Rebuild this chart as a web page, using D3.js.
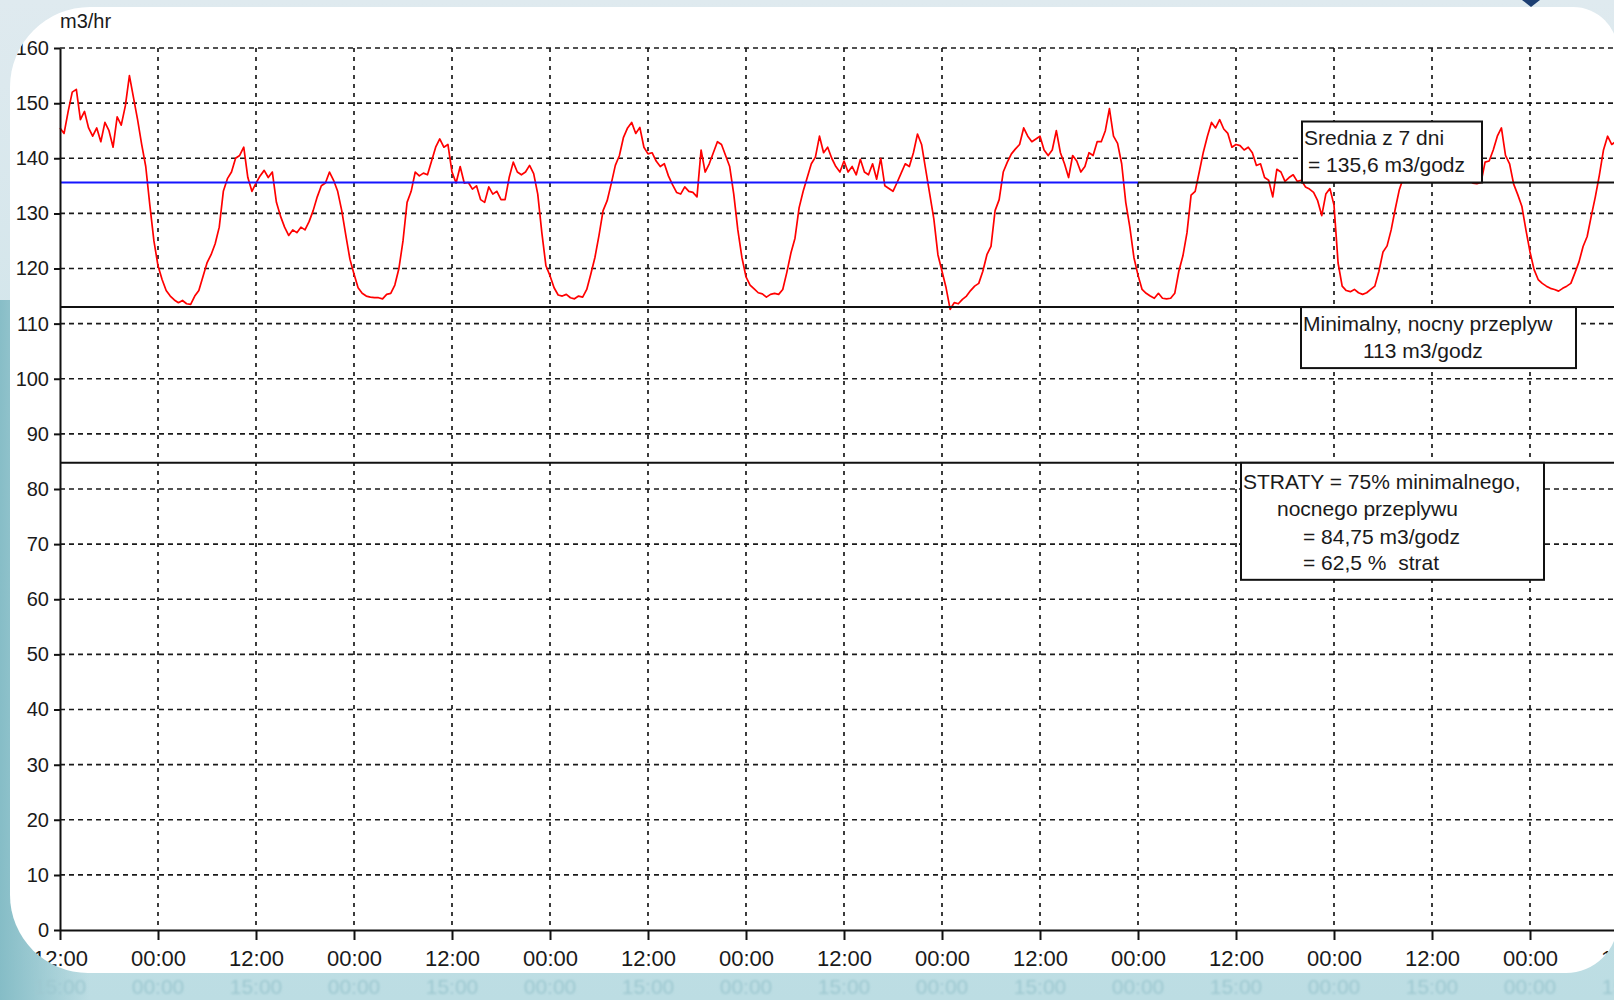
<!DOCTYPE html>
<html>
<head>
<meta charset="utf-8">
<script src="https://cdn.jsdelivr.net/npm/d3@7"></script>
<style>
    body { margin: 0; background: #cfe5ea; }
    svg { display: block; }
</style>
</head>
<body>
<script>
const W = 1614, H = 1000;

// flow in m3/hr, one reading every 30 min, starting at 12:00
const stepHours = 0.5;
const day1 = [145.5, 144.5, 148.5, 152, 152.5, 147, 148.5, 145.5, 144, 145.5,
    143, 146.5, 145, 142, 147.5, 146, 149.5, 155, 151, 147,
    142.5, 138.5, 131.5, 125, 120.5, 118, 116, 115, 114.3, 113.8,
    114.2, 113.6, 113.5, 115, 116, 118.5, 121, 122.5, 124.5, 127.5,
    134, 136.3, 137.5, 140, 140.5, 142, 136.5, 134];
const day2 = [135.5, 136.8, 137.8, 136.5, 137.5, 132, 129.5, 127.5, 126, 127,
    126.5, 127.5, 127, 128.5, 130.5, 133, 135, 135.5, 137.5, 136,
    134, 130.5, 126, 121.7, 119, 116.5, 115.5, 115, 114.8, 114.7,
    114.7, 114.5, 115.3, 115.5, 117, 120, 125, 132, 134, 137.5,
    136.8, 137.3, 137, 139.5, 142, 143.5, 142, 142.5];
const day3 = [137.5, 135.5, 138.5, 135.5, 135.6, 134.4, 135, 132.5, 132, 134.8,
    133.5, 134, 132.5, 132.5, 136.5, 139.3, 137.5, 137, 137.5, 138.7,
    137.2, 133.5, 126.5, 120.5, 118.7, 116.5, 115.2, 115, 115.3, 114.7,
    114.5, 115, 114.8, 116.2, 119, 122, 126, 130.5, 132.3, 135.4,
    138.7, 140.5, 143.8, 145.5, 146.5, 144.5, 145.6, 142];
const day4 = [140.8, 141, 139.5, 138.5, 139, 136.8, 135.2, 133.8, 133.5, 134.8,
    134, 133.8, 133, 141.5, 137.5, 139, 141, 143, 142.5, 140.5,
    138.5, 133.5, 127, 122, 118.5, 117, 116.3, 115.6, 115.4, 114.8,
    115.3, 115.5, 115.3, 116.2, 119.3, 122.8, 125.5, 131, 134, 136.5,
    139, 140.2, 144, 141, 142, 140, 138.5, 137.5];
const day5 = [139.5, 137.5, 138.5, 137, 139.8, 137.5, 137, 139, 136.2, 140,
    135, 134.5, 134, 135.6, 137.3, 139, 138.5, 141, 144.4, 142.5,
    138, 133.5, 129, 122.5, 119.5, 116.5, 112.6, 113.8, 113.6, 114.4,
    115, 116, 116.8, 117.3, 119.5, 122.5, 124, 130.5, 132.5, 137.5,
    139.3, 140.8, 141.7, 142.5, 145.5, 144, 143, 143.5];
const day6 = [144, 141.5, 140.5, 141.5, 145, 141, 139, 136.5, 140.5, 139.5,
    137.5, 138.5, 141, 140.5, 143, 143, 145, 149, 144, 142.7,
    139, 132, 127.5, 122, 118.8, 116.2, 115.5, 115, 114.6, 115.5,
    114.6, 114.5, 114.6, 115.5, 119.5, 122.3, 126.5, 133.3, 134, 137.5,
    141.1, 144, 146.5, 145.5, 147, 145.3, 144.5, 142];
const day7 = [142.5, 142.3, 141.5, 142, 141, 138.7, 139, 136.5, 136, 133,
    138, 137.5, 135.8, 136.5, 137, 135.8, 136, 134.8, 134.4, 133.8,
    132.3, 129.6, 133.5, 134.5, 131.5, 121, 116.8, 116, 115.8, 116.2,
    115.6, 115.3, 115.6, 116.2, 116.8, 119.5, 123, 124.1, 127, 130.8,
    134.3, 136.5, 138.5, 139.5, 141, 140, 141.5, 140.5];
const day8 = [142, 139.5, 141, 140, 141.5, 139, 138.5, 137, 137.5, 136,
    135.5, 135.4, 135.6, 139.3, 139.5, 141.5, 144, 145.5, 140.5, 139,
    135.3, 133.4, 131.3, 127, 123, 119.8, 118, 117.3, 116.8, 116.4,
    116.2, 115.9, 116.4, 116.8, 117.3, 119.2, 121.2, 124, 125.8, 129.5,
    133, 137, 141.5, 144, 142.5, 143];

const flow = [].concat(day1, day2, day3, day4, day5, day6, day7, day8);

const avgFlow = 135.6;     // srednia z 7 dni
const avgEndHour = 132;    // blue part of the mean line
const minNightFlow = 113;
const lossFlow = 84.75;

const yTicks = [0, 10, 20, 30, 40, 50, 60, 70, 80, 90, 100, 110, 120, 130, 140, 150, 160];
const timeTicks = [0, 12, 24, 36, 48, 60, 72, 84, 96, 108, 120, 132, 144, 156, 168, 180, 192];
const timeLabels = ["12:00", "00:00", "12:00", "00:00", "12:00", "00:00", "12:00", "00:00", "12:00",
    "00:00", "12:00", "00:00", "12:00", "00:00", "12:00", "00:00", "12:00"];
const mirrorLabels = ["15:00", "00:00", "15:00", "00:00", "15:00", "00:00", "15:00", "00:00", "15:00",
    "00:00", "15:00", "00:00", "15:00", "00:00", "15:00", "00:00", "15:00"];

const avgNote = ["Srednia z 7 dni", "= 135,6 m3/godz"];
const minNote = ["Minimalny, nocny przeplyw", "113 m3/godz"];
const lossNote = ["STRATY = 75% minimalnego,", "nocnego przeplywu", "= 84,75 m3/godz", "= 62,5 %  strat"];

const FONT = "'Liberation Sans', Arial, sans-serif";

const x = d3.scaleLinear().domain([0, 192]).range([60, 1628]);
const y = d3.scaleLinear().domain([0, 160]).range([930, 48]);

const svg = d3.select('body')
    .append('svg')
    .attr('width', W)
    .attr('height', H);

const defs = svg.append('defs');

const bg = defs.append('linearGradient').attr('id', 'bgGrad')
    .attr('x1', 0).attr('y1', 0).attr('x2', 0).attr('y2', 1);
bg.append('stop').attr('offset', '0%').attr('stop-color', '#dfeaef');
bg.append('stop').attr('offset', '100%').attr('stop-color', '#bcdde3');

const side = defs.append('linearGradient').attr('id', 'sideGrad')
    .attr('x1', 0).attr('y1', 0).attr('x2', 1).attr('y2', 0);
side.append('stop').attr('offset', '0%').attr('stop-color', '#7fb9c3').attr('stop-opacity', 0.9);
side.append('stop').attr('offset', '100%').attr('stop-color', '#7fb9c3').attr('stop-opacity', 0);

defs.append('filter').attr('id', 'soft')
    .append('feGaussianBlur').attr('stdDeviation', 0.9);

// white rounded panel the chart sits on
const px0 = 10, py0 = 7, px1 = 1618, py1 = 973;
const rTL = 80, rTR = 45, rBR = 52, rBL = 78;
const panelPath = `M${px0 + rTL},${py0} H${px1 - rTR} A${rTR},${rTR} 0 0 1 ${px1},${py0 + rTR}
    V${py1 - rBR} A${rBR},${rBR} 0 0 1 ${px1 - rBR},${py1} H${px0 + rBL}
    A${rBL},${rBL} 0 0 1 ${px0},${py1 - rBL} V${py0 + rTL} A${rTL},${rTL} 0 0 1 ${px0 + rTL},${py0} Z`;

defs.append('clipPath').attr('id', 'panelClip')
    .append('path').attr('d', panelPath);

svg.append('rect').attr('width', W).attr('height', H).attr('fill', 'url(#bgGrad)');
svg.append('rect').attr('x', 0).attr('y', 300).attr('width', 90).attr('height', H - 300)
    .attr('fill', 'url(#sideGrad)');
svg.append('path').attr('d', 'M1522,0 L1540,0 L1531,7 Z').attr('fill', '#1d3f73');

// faded reflection of the time labels under the panel
svg.append('g')
    .attr('filter', 'url(#soft)')
    .selectAll('text')
    .data(timeTicks)
    .enter()
    .append('text')
    .attr('x', d => x(d))
    .attr('y', 994)
    .attr('text-anchor', 'middle')
    .attr('font-family', FONT)
    .attr('font-size', 21)
    .attr('fill', '#9dc8d0')
    .text((d, i) => mirrorLabels[i]);

svg.append('path').attr('d', panelPath).attr('fill', '#fff');

const chart = svg.append('g').attr('clip-path', 'url(#panelClip)');

// grid
chart.append('g')
    .selectAll('line')
    .data(yTicks.filter(d => d > 0))
    .enter()
    .append('line')
    .attr('x1', x(0)).attr('x2', x(192))
    .attr('y1', d => y(d)).attr('y2', d => y(d))
    .attr('stroke', '#1a1a1a')
    .attr('stroke-width', 1.7)
    .attr('stroke-dasharray', '5,4');

chart.append('g')
    .selectAll('line')
    .data(timeTicks.filter(d => d > 0))
    .enter()
    .append('line')
    .attr('x1', d => x(d)).attr('x2', d => x(d))
    .attr('y1', y(160)).attr('y2', y(0))
    .attr('stroke', '#1a1a1a')
    .attr('stroke-width', 1.7)
    .attr('stroke-dasharray', '4,5');

// flow series
const line = d3.line()
    .x((d, i) => x(i * stepHours))
    .y(d => y(d));

chart.append('path')
    .datum(flow)
    .attr('d', line)
    .attr('fill', 'none')
    .attr('stroke', '#ff0000')
    .attr('stroke-width', 1.7)
    .attr('stroke-linejoin', 'round');

// reference lines
const refLines = [
    {from: 0, to: avgEndHour, v: avgFlow, c: '#1515ff'},
    {from: avgEndHour, to: 192, v: avgFlow, c: '#111'},
    {from: 0, to: 192, v: minNightFlow, c: '#111'},
    {from: 0, to: 192, v: lossFlow, c: '#111'}
];
chart.append('g')
    .selectAll('line')
    .data(refLines)
    .enter()
    .append('line')
    .attr('x1', d => x(d.from)).attr('x2', d => x(d.to))
    .attr('y1', d => y(d.v)).attr('y2', d => y(d.v))
    .attr('stroke', d => d.c)
    .attr('stroke-width', 2);

// axes
const yAxis = d3.axisLeft(y)
    .tickValues(yTicks)
    .tickSize(6)
    .tickSizeOuter(0)
    .tickPadding(5);

const xAxis = d3.axisBottom(x)
    .tickValues(timeTicks)
    .tickFormat((d, i) => timeLabels[i])
    .tickSize(10)
    .tickSizeOuter(0)
    .tickPadding(10);

const gY = chart.append('g')
    .attr('transform', 'translate(' + x(0) + ',0)')
    .call(yAxis);
gY.attr('font-family', FONT).attr('font-size', 20);

const gX = chart.append('g')
    .attr('transform', 'translate(0,' + y(0) + ')')
    .call(xAxis);
gX.attr('font-family', FONT).attr('font-size', 22);

[gX, gY].forEach(g => {
    g.select('.domain').attr('stroke', '#111').attr('stroke-width', 2);
    g.selectAll('.tick line').attr('stroke', '#111').attr('stroke-width', 2);
    g.selectAll('.tick text').attr('fill', '#1a1a1a');
});

chart.append('text')
    .attr('x', 60)
    .attr('y', 28)
    .attr('font-family', FONT)
    .attr('font-size', 20)
    .attr('fill', '#1a1a1a')
    .text('m3/hr');

// annotation boxes
const notes = [
    {lines: avgNote, x: 1302, w: 180, h: 61, top: y(avgFlow) - 61,
        base: [23, 50], dx: [2, 6]},
    {lines: minNote, x: 1301, w: 275, h: 61, top: y(minNightFlow),
        base: [24, 51], dx: [2, 62]},
    {lines: lossNote, x: 1241, w: 303, h: 117, top: y(lossFlow),
        base: [26, 53, 81, 107], dx: [2, 36, 62, 62]}
];

notes.forEach(n => {
    const g = chart.append('g');
    g.append('rect')
        .attr('x', n.x).attr('y', n.top)
        .attr('width', n.w).attr('height', n.h)
        .attr('fill', '#fff')
        .attr('stroke', '#111')
        .attr('stroke-width', 2);
    g.selectAll('text')
        .data(n.lines)
        .enter()
        .append('text')
        .attr('x', (d, i) => n.x + n.dx[i])
        .attr('y', (d, i) => n.top + n.base[i])
        .attr('font-family', FONT)
        .attr('font-size', 21)
        .attr('fill', '#1a1a1a')
        .style('white-space', 'pre')
        .text(d => d);
});
</script>
</body>
</html>
